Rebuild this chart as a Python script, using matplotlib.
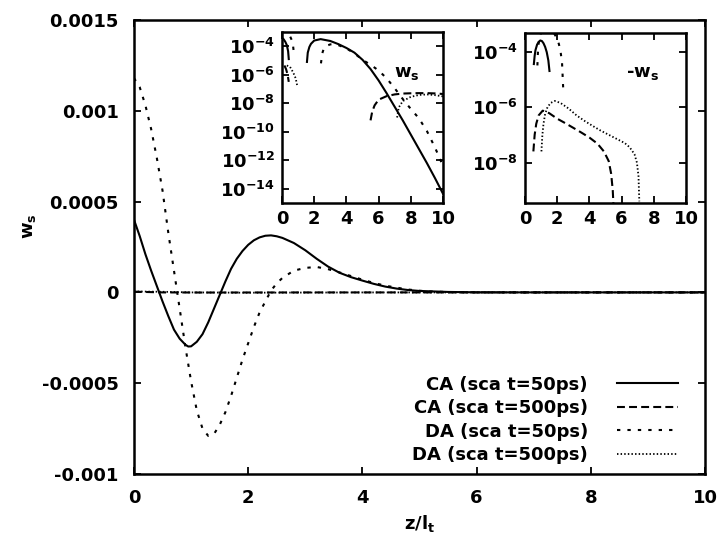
import numpy as np
import matplotlib
matplotlib.use('Agg')
import matplotlib.pyplot as plt

plt.rcParams['font.family'] = ['DejaVu Sans']
plt.rcParams['font.weight'] = 'bold'
plt.rcParams['mathtext.fontset'] = 'custom'
plt.rcParams['mathtext.rm'] = 'DejaVu Sans:bold'
plt.rcParams['mathtext.it'] = 'DejaVu Sans:bold'
plt.rcParams['mathtext.bf'] = 'DejaVu Sans:bold'
plt.rcParams['axes.unicode_minus'] = False

# ---------------- main panel data (w_s vs z/l_t) ----------------
z_ca50 = [0, 0.1, 0.2, 0.3, 0.4, 0.5, 0.6, 0.7, 0.8, 0.9, 0.95, 1.0, 1.1, 1.2, 1.3,
          1.4, 1.5, 1.6, 1.7, 1.8, 1.9, 2.0, 2.1, 2.2, 2.3, 2.4, 2.5, 2.6, 2.8, 3.0,
          3.2, 3.4, 3.6, 3.8, 4.0, 4.2, 4.4, 4.6, 4.8, 5.0, 5.5, 6.0, 7.0, 8.0, 9.0, 10.0]
w_ca50 = [4.0e-4, 3.1e-4, 2.1e-4, 1.2e-4, 3.5e-5, -5e-5, -1.3e-4, -2.05e-4, -2.55e-4, -2.88e-4,
          -2.98e-4, -2.97e-4, -2.72e-4, -2.3e-4, -1.65e-4, -9e-5, -1.5e-5, 6e-5, 1.3e-4, 1.85e-4,
          2.28e-4, 2.62e-4, 2.87e-4, 3.03e-4, 3.12e-4, 3.14e-4, 3.09e-4, 3.0e-4, 2.72e-4, 2.32e-4,
          1.85e-4, 1.42e-4, 1.08e-4, 8.4e-5, 6.5e-5, 4.7e-5, 3.2e-5, 2.1e-5, 1.3e-5, 8e-6,
          2.5e-6, 4e-7, 0, 0, 0, 0]

z_ca500 = [0, 0.5, 1.2, 3.0, 5.0, 5.5, 6.5, 8.0, 10.0]
w_ca500 = [4e-6, -3e-8, -7.4e-7, -1.8e-7, -1.1e-8, 1e-9, 3.2e-8, 5e-8, 4.5e-8]

z_da50 = [0, 0.1, 0.2, 0.3, 0.4, 0.5, 0.6, 0.7, 0.8, 0.9, 1.0, 1.1, 1.2, 1.3, 1.4, 1.5,
          1.6, 1.7, 1.8, 1.9, 2.0, 2.1, 2.2, 2.3, 2.4, 2.5, 2.6, 2.8, 3.0, 3.2, 3.4, 3.6,
          3.8, 4.0, 4.2, 4.4, 4.6, 4.8, 5.0, 5.2, 5.5, 6.0, 7.0, 8.0, 9.0, 10.0]
w_da50 = [1.18e-3, 1.13e-3, 1.03e-3, 9.0e-4, 7.4e-4, 5.6e-4, 3.3e-4, 1.2e-4, -9e-5, -3.0e-4,
          -4.9e-4, -6.5e-4, -7.5e-4, -7.9e-4, -7.8e-4, -7.3e-4, -6.6e-4, -5.7e-4, -4.7e-4, -3.7e-4,
          -2.8e-4, -1.9e-4, -1.1e-4, -5e-5, 1e-5, 5e-5, 8e-5, 1.2e-4, 1.35e-4, 1.4e-4,
          1.28e-4, 1.1e-4, 9e-5, 7e-5, 5.2e-5, 3.7e-5, 2.6e-5, 1.6e-5, 9e-6, 5e-6,
          2e-6, 5e-7, 0, 0, 0, 0]

z_da500 = [0, 0.5, 1.0, 1.9, 4.0, 6.5, 7.1, 8.0, 10.0]
w_da500 = [5e-6, 3.5e-6, -5e-8, -1.7e-6, -2.3e-7, -3.5e-8, 0, 2.8e-8, 3e-8]

labels = ['CA (sca t=50ps)', 'CA (sca t=500ps)', 'DA (sca t=50ps)', 'DA (sca t=500ps)']
x_ticks = [0, 2, 4, 6, 8, 10]
y_ticks = [-0.001, -0.0005, 0, 0.0005, 0.001, 0.0015]
y_ticklabels = ['-0.001', '-0.0005', '0', '0.0005', '0.001', '0.0015']

# ---------------- inset 1: log10(w_s) where w_s > 0 ----------------
in1_ca50_a_z = [0.0, 0.1, 0.2, 0.3, 0.38, 0.42]
in1_ca50_a_l = [-3.4, -3.51, -3.68, -3.92, -4.35, -4.9]
in1_ca50_b_z = [1.55, 1.6, 1.7, 1.8, 2.0, 2.4, 3.0, 3.5, 4.0, 4.5, 5.0, 5.5, 6.0, 6.5, 7.0,
                7.5, 8.0, 8.5, 9.0, 9.5, 10.0]
in1_ca50_b_l = [-5.1, -4.45, -4.05, -3.83, -3.6, -3.5, -3.63, -3.85, -4.12, -4.45, -4.95,
                -5.6, -6.4, -7.3, -8.25, -9.2, -10.2, -11.2, -12.2, -13.25, -14.35]
in1_ca500_a_z = [0.15, 0.25, 0.35, 0.42]
in1_ca500_a_l = [-5.35, -5.6, -6.0, -6.5]
in1_ca500_b_z = [5.5, 5.6, 5.75, 6.0, 6.5, 7.0, 7.5, 8.0, 8.5, 9.0, 9.5, 10.0]
in1_ca500_b_l = [-9.2, -8.6, -8.15, -7.75, -7.5, -7.38, -7.32, -7.3, -7.29, -7.29, -7.31, -7.35]
in1_da50_a_z = [0.0, 0.2, 0.35, 0.5, 0.6, 0.68, 0.74]
in1_da50_a_l = [-2.93, -2.99, -3.1, -3.3, -3.55, -3.9, -4.5]
in1_da50_b_z = [2.42, 2.5, 2.6, 2.8, 3.0, 3.2, 3.5, 4.0, 4.5, 5.0, 5.5, 6.0, 6.5, 7.0, 7.5,
                8.0, 8.5, 9.0, 9.5, 10.0]
in1_da50_b_l = [-5.2, -4.5, -4.15, -3.95, -3.87, -3.86, -3.92, -4.15, -4.5, -4.95, -5.3,
                -5.7, -6.25, -6.95, -7.7, -8.4, -9.05, -9.95, -11.1, -12.4]
in1_da500_a_z = [0.3, 0.5, 0.7, 0.85, 0.95]
in1_da500_a_l = [-5.35, -5.45, -5.85, -6.25, -6.8]
in1_da500_b_z = [7.15, 7.25, 7.5, 8.0, 8.5, 9.0, 9.5, 10.0]
in1_da500_b_l = [-9.0, -8.3, -7.85, -7.55, -7.42, -7.38, -7.43, -7.52]

# ---------------- inset 2: log10(-w_s) where w_s < 0 ----------------
in2_ca50_z = [0.55, 0.6, 0.65, 0.75, 0.85, 0.95, 1.05, 1.15, 1.25, 1.35, 1.45, 1.52]
in2_ca50_l = [-4.45, -4.15, -3.95, -3.75, -3.65, -3.6, -3.62, -3.7, -3.83, -4.02, -4.32, -4.7]
in2_da50_z = [0.77, 0.8, 0.85, 0.9, 1.0, 1.2, 1.4, 1.6, 1.8, 2.0, 2.1, 2.2, 2.3, 2.37]
in2_da50_l = [-4.5, -4.05, -3.7, -3.52, -3.31, -3.12, -3.11, -3.18, -3.33, -3.55, -3.72,
              -3.96, -4.4, -5.3]
in2_ca500_z = [0.52, 0.6, 0.7, 0.85, 1.1, 1.5, 2.0, 2.5, 3.0, 3.5, 4.0, 4.5, 4.9, 5.2, 5.35,
               5.45, 5.5]
in2_ca500_l = [-7.6, -7.0, -6.6, -6.3, -6.13, -6.22, -6.42, -6.58, -6.75, -6.92, -7.1, -7.32,
               -7.6, -7.95, -8.4, -9.0, -9.6]
in2_da500_z = [1.02, 1.08, 1.15, 1.25, 1.4, 1.6, 1.85, 2.2, 2.7, 3.2, 3.7, 4.2, 4.7, 5.2, 5.7,
               6.2, 6.5, 6.8, 6.95, 7.05, 7.1]
in2_da500_l = [-7.6, -7.0, -6.6, -6.25, -6.0, -5.85, -5.78, -5.85, -6.05, -6.3, -6.5, -6.68,
               -6.85, -7.0, -7.15, -7.3, -7.45, -7.7, -8.0, -8.5, -9.4]

in1_yticks_exp = [-4, -6, -8, -10, -12, -14]
in2_yticks_exp = [-4, -6, -8]

# ---------------- styles ----------------
LW = 1.5
st_ca50 = dict(color='black', lw=LW, linestyle='-')
st_ca500 = dict(color='black', lw=LW, linestyle=(0, (3.8, 2.0)))
st_da50 = dict(color='black', lw=LW, linestyle=(0, (1.6, 3.4)))
st_da500 = dict(color='black', lw=1.3, linestyle=(0, (0.8, 1.2)))
FS = 13

fig = plt.figure(figsize=(7.23, 5.48), dpi=100)
W, H = 723.0, 548.0

ax = fig.add_axes([134 / W, 1 - 474 / H, 571 / W, 454 / H])
ax.plot(z_ca50, w_ca50, label=labels[0], **st_ca50)
ax.plot(z_ca500, w_ca500, label=labels[1], **st_ca500)
ax.plot(z_da50, w_da50, label=labels[2], **st_da50)
ax.plot(z_da500, w_da500, label=labels[3], **st_da500)
ax.set_xlim(0, 10)
ax.set_ylim(-0.001, 0.0015)
ax.set_xticks(x_ticks)
ax.set_xticklabels([str(t) for t in x_ticks])
ax.set_yticks(y_ticks)
ax.set_yticklabels(y_ticklabels)
ax.tick_params(direction='in', top=True, right=True, length=5, width=1.3,
               labelsize=FS, pad=11)
for s in ax.spines.values():
    s.set_linewidth(1.8)
ax.set_xlabel(r'z/l$_{\mathrm{t}}$', fontsize=FS, fontweight='bold')
ax.xaxis.set_label_coords((420 - 134) / 571, -(513 - 474) / 454)
ax.set_ylabel(r'w$_{\mathrm{s}}$', fontsize=FS, fontweight='bold')
ax.yaxis.set_label_coords((38 - 134) / 571, 1 - (226 - 20) / 454)

leg = ax.legend(loc='lower right', bbox_to_anchor=(0.953, 0.022), frameon=False,
                markerfirst=False, handlelength=3.4, handletextpad=1.6,
                labelspacing=0.3, borderaxespad=0, borderpad=0,
                prop=dict(size=FS, weight='bold'))


def setup_inset(a, ylo, yhi, exps):
    a.set_facecolor('white')
    a.set_yscale('log')
    a.set_xlim(0, 10)
    a.set_ylim(ylo, yhi)
    a.set_xticks(x_ticks)
    a.set_xticklabels([str(t) for t in x_ticks])
    a.set_yticks([10.0 ** e for e in exps])
    a.set_yticklabels([r'$\mathrm{10^{%d}}$' % e for e in exps])
    a.yaxis.set_minor_locator(matplotlib.ticker.NullLocator())
    a.tick_params(direction='in', top=True, right=True, length=5, width=1.3,
                  labelsize=FS, pad=5)
    for s in a.spines.values():
        s.set_linewidth(1.8)


def pw(l):
    return [10.0 ** v for v in l]


ax1 = fig.add_axes([282 / W, 1 - 203 / H, 161 / W, 171 / H])
setup_inset(ax1, 1e-15, 1e-3, in1_yticks_exp)
ax1.plot(in1_ca50_a_z, pw(in1_ca50_a_l), **st_ca50)
ax1.plot(in1_ca50_b_z, pw(in1_ca50_b_l), **st_ca50)
ax1.plot(in1_ca500_a_z, pw(in1_ca500_a_l), **st_ca500)
ax1.plot(in1_ca500_b_z, pw(in1_ca500_b_l), **st_ca500)
ax1.plot(in1_da50_a_z, pw(in1_da50_a_l), **st_da50)
ax1.plot(in1_da50_b_z, pw(in1_da50_b_l), **st_da50)
ax1.plot(in1_da500_a_z, pw(in1_da500_a_l), **st_da500)
ax1.plot(in1_da500_b_z, pw(in1_da500_b_l), **st_da500)
ax1.text((407 - 282) / 161, 1 - (73 - 32) / 171, r'w$_{\mathrm{s}}$', transform=ax1.transAxes,
         ha='center', va='center', fontsize=FS, fontweight='bold')

ax2 = fig.add_axes([525 / W, 1 - 203 / H, 161 / W, 170 / H])
setup_inset(ax2, 10 ** -9.46, 10 ** -3.33, in2_yticks_exp)
ax2.plot(in2_ca50_z, pw(in2_ca50_l), **st_ca50)
ax2.plot(in2_ca500_z, pw(in2_ca500_l), **st_ca500)
ax2.plot(in2_da50_z, pw(in2_da50_l), **st_da50)
ax2.plot(in2_da500_z, pw(in2_da500_l), **st_da500)
ax2.text((643 - 525) / 161, 1 - (73 - 33) / 170, r'-w$_{\mathrm{s}}$', transform=ax2.transAxes,
         ha='center', va='center', fontsize=FS, fontweight='bold')

fig.savefig('out.png', dpi=100)
